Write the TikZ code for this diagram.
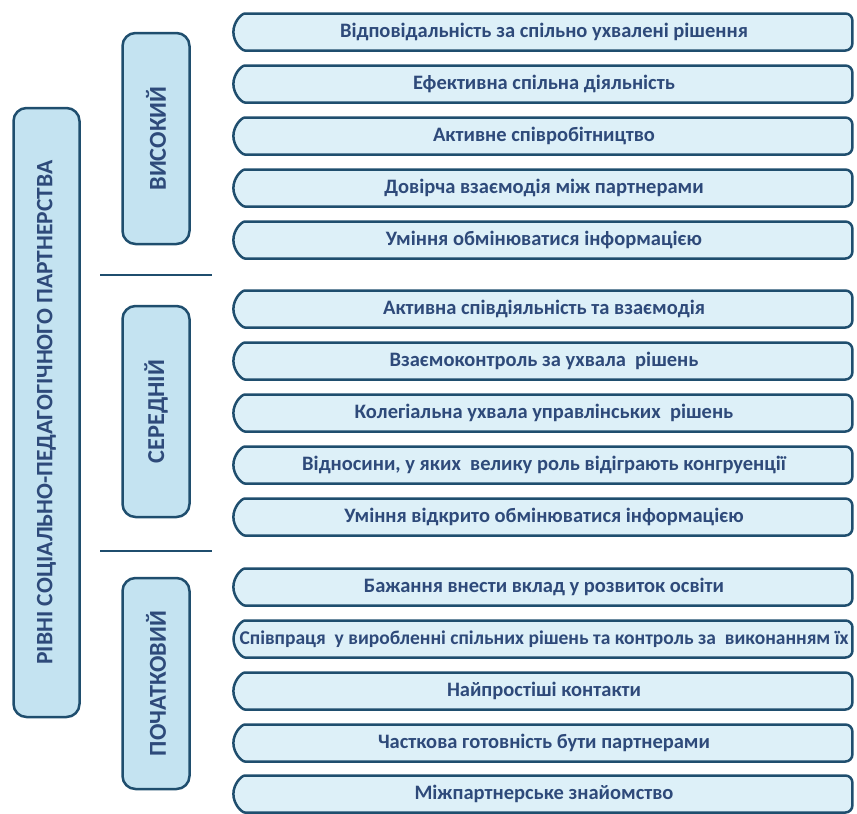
\documentclass[tikz,border=0pt]{standalone}
\usepackage{fontspec}
\setmainfont{Carlito}
\usetikzlibrary{shapes.misc}
\definecolor{edge}{HTML}{1F4E6E}
\definecolor{ink}{HTML}{2E4A7A}
\definecolor{rowfill}{HTML}{DDF0F8}
\definecolor{levfill}{HTML}{C4E3F1}

\begin{document}
\begin{tikzpicture}[x=1pt,y=-1pt,
    row/.style={draw=edge,fill=rowfill,line width=2.5pt,
        rounded rectangle,rounded rectangle right arc=none,rounded corners=7pt,
        minimum width=619pt,minimum height=37pt,inner sep=0pt,
        text=ink,font=\fontsize{20.5}{22}\selectfont\bfseries},
    level/.style={draw=edge,fill=levfill,line width=2.5pt,rounded corners=13pt,
        rotate=90,inner sep=0pt,minimum height=67pt,minimum width=211pt,
        text=ink,font=\fontsize{24.3}{26}\selectfont\bfseries},
    sep/.style={draw=edge,line width=2.5pt}]
\useasboundingbox (0,0) rectangle (857,814);
%main
\node[level,minimum width=609pt,minimum height=66pt,font=\fontsize{23.5}{25}\selectfont\bfseries]
    (main) at (46.5,412.5) {РІВНІ СОЦІАЛЬНО-ПЕДАГОГІЧНОГО ПАРТНЕРСТВА};
%levels
\foreach \n/\y/\ltext in {high/138.5/ВИСОКИЙ,mid/411.5/СЕРЕДНІЙ,low/683.5/ПОЧАТКОВИЙ}
    \node[level] (\n) at (156,\y) {\ltext};
\foreach \y in {275,551}
    \draw[sep] (100,\y)--(212,\y);
%rows
\foreach \n/\y/\rtext in {
    1/32/{Відповідальність за спільно ухвалені рішення},
    2/84/{Ефективна спільна діяльність},
    3/136/{Активне співробітництво},
    4/188/{Довірча взаємодія між партнерами},
    5/240/{Уміння обмінюватися інформацією},
    6/309/{Активна співдіяльність та взаємодія},
    7/361/{Взаємоконтроль за ухвала\ \ рішень},
    8/413/{Колегіальна ухвала управлінських\ \ рішень},
    9/465/{Відносини, у яких\ \ велику роль відіграють конгруенції},
    10/517/{Уміння відкрито обмінюватися інформацією},
    11/587/{Бажання внести вклад у розвиток освіти},
    12/639/{\fontsize{19.5}{21}\selectfont Співпраця\ \ у виробленні спільних рішень та контроль за\ \ виконанням їх},
    13/691/{Найпростіші контакти},
    14/743/{Часткова готовність бути партнерами},
    15/794/{Міжпартнерське знайомство}}
    \node[row] (r\n) at (544,\y) {\rtext};
\end{tikzpicture}
\end{document}
